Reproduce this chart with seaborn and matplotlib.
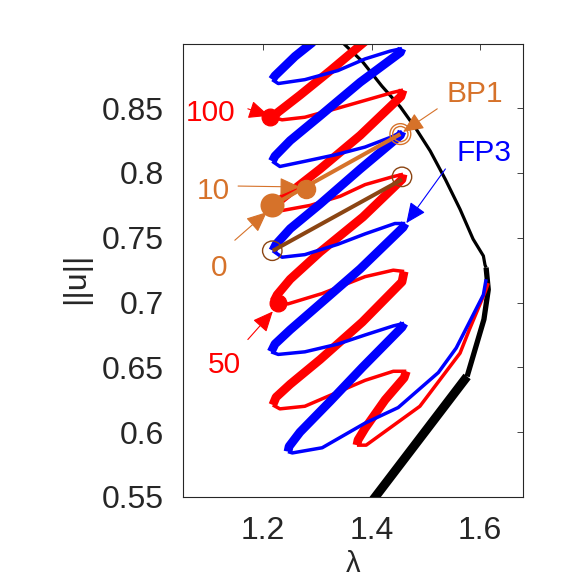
import matplotlib
matplotlib.use("Agg")
import matplotlib.pyplot as plt
import seaborn as sns

# ---- data: (lambda, ||u||) ----
# each branch is a list of pieces, alternating thick (stable) / thin (unstable), starting thick
red_lam = [
    [1.395, 1.324, 1.268, 1.228, 1.218],
    [1.218, 1.235, 1.277, 1.338, 1.388, 1.438, 1.458],
    [1.458, 1.454, 1.379, 1.305, 1.250, 1.226, 1.218],
    [1.218, 1.235, 1.287, 1.342, 1.388, 1.438, 1.458],
    [1.458, 1.456, 1.384, 1.305, 1.250, 1.226, 1.220],
    [1.220, 1.246, 1.309, 1.388, 1.440, 1.460],
    [1.460, 1.456, 1.383, 1.305, 1.250, 1.224, 1.218],
    [1.218, 1.231, 1.277, 1.338, 1.388, 1.440, 1.464],
    [1.464, 1.460, 1.425, 1.388, 1.375, 1.373],
    [1.373, 1.390, 1.489, 1.563, 1.580, 1.609, 1.615],
]
red_u = [
    [0.904, 0.879, 0.860, 0.847, 0.843],
    [0.843, 0.841, 0.843, 0.850, 0.856, 0.862, 0.864],
    [0.864, 0.859, 0.829, 0.803, 0.785, 0.777, 0.774],
    [0.774, 0.771, 0.775, 0.782, 0.791, 0.797, 0.799],
    [0.799, 0.795, 0.766, 0.739, 0.718, 0.706, 0.701],
    [0.701, 0.699, 0.707, 0.720, 0.725, 0.724],
    [0.724, 0.716, 0.685, 0.656, 0.637, 0.627, 0.621],
    [0.621, 0.618, 0.620, 0.631, 0.640, 0.647, 0.647],
    [0.647, 0.642, 0.625, 0.603, 0.594, 0.590],
    [0.590, 0.590, 0.620, 0.661, 0.679, 0.708, 0.715],
]

blue_lam = [
    [1.292, 1.259, 1.222, 1.217],
    [1.217, 1.228, 1.277, 1.338, 1.388, 1.434, 1.456],
    [1.456, 1.453, 1.379, 1.305, 1.250, 1.222, 1.217],
    [1.217, 1.231, 1.277, 1.333, 1.388, 1.438, 1.456],
    [1.456, 1.453, 1.379, 1.305, 1.250, 1.224, 1.218],
    [1.218, 1.235, 1.277, 1.338, 1.388, 1.443, 1.462],
    [1.462, 1.458, 1.379, 1.305, 1.250, 1.222, 1.215],
    [1.215, 1.228, 1.277, 1.338, 1.388, 1.440, 1.460],
    [1.460, 1.456, 1.383, 1.324, 1.268, 1.248, 1.246],
    [1.246, 1.254, 1.309, 1.388, 1.449, 1.523, 1.556, 1.606, 1.611],
]
blue_u = [
    [0.901, 0.890, 0.875, 0.872],
    [0.872, 0.869, 0.872, 0.879, 0.888, 0.894, 0.896],
    [0.896, 0.893, 0.870, 0.844, 0.825, 0.813, 0.809],
    [0.809, 0.805, 0.809, 0.814, 0.820, 0.828, 0.832],
    [0.832, 0.829, 0.803, 0.776, 0.757, 0.745, 0.740],
    [0.740, 0.735, 0.737, 0.745, 0.753, 0.761, 0.761],
    [0.761, 0.758, 0.726, 0.699, 0.679, 0.668, 0.662],
    [0.662, 0.660, 0.662, 0.668, 0.675, 0.682, 0.684],
    [0.684, 0.681, 0.650, 0.624, 0.600, 0.589, 0.585],
    [0.585, 0.584, 0.588, 0.607, 0.619, 0.646, 0.665, 0.706, 0.718],
]

# black primary branch: thin, medium, thick parts
black_lam = [
    [1.338, 1.383, 1.419, 1.453, 1.482, 1.508, 1.536, 1.563, 1.587, 1.606, 1.609, 1.611],
    [1.611, 1.615, 1.607, 1.576],
    [1.576, 1.403],
]
black_u = [
    [0.904, 0.886, 0.867, 0.851, 0.834, 0.817, 0.795, 0.772, 0.749, 0.736, 0.729, 0.727],
    [0.727, 0.710, 0.687, 0.643],
    [0.643, 0.548],
]

# connecting branches between bifurcation points
orange_lam = [1.217, 1.453]
orange_u = [0.775, 0.830]
brown_lam = [1.218, 1.456]
brown_u = [0.740, 0.795]

# labelled points
red_pt_lam = [1.213, 1.228]        # 100, 50
red_pt_u = [0.843, 0.700]
orange_pt_lam = [1.217, 1.279]     # 0, 10
orange_pt_u = [0.775, 0.788]
brown_circ_lam = [1.217, 1.456]
brown_circ_u = [0.740, 0.797]
bp1_lam = [1.453]
bp1_u = [0.830]

# annotations
ann_text = ["100", "10", "0", "50", "BP1", "FP3"]
ann_col = ["red", "orange", "orange", "red", "orange", "blue"]
ann_text_lam = [1.104, 1.108, 1.119, 1.128, 1.591, 1.607]
ann_text_u = [0.8403, 0.7799, 0.7203, 0.6460, 0.8550, 0.8093]
ann_tail_lam = [1.172, 1.154, 1.148, 1.172, 1.521, 1.536]
ann_tail_u = [0.8495, 0.7899, 0.7481, 0.6715, 0.8495, 0.8031]
ann_tip_lam = [1.211, 1.268, 1.207, 1.218, 1.458, 1.464]
ann_tip_u = [0.8441, 0.7892, 0.7698, 0.6932, 0.8317, 0.7613]

xticks = [1.2, 1.4, 1.6]
xtick_labels = ["1.2", "1.4", "1.6"]
yticks = [0.55, 0.6, 0.65, 0.7, 0.75, 0.8, 0.85]
ytick_labels = ["0.55", "0.6", "0.65", "0.7", "0.75", "0.8", "0.85"]

# ---- style ----
sns.set_theme(style="white")
plt.rcParams['font.family'] = ['Liberation Sans', 'DejaVu Sans']

colors = {"red": "#FF0000", "blue": "#0000FF", "orange": "#D6722A",
          "brown": "#8B4513", "black": "#000000"}
axis_col = "#262626"

fig = plt.figure(figsize=(5.8, 5.8), dpi=100)
ax = fig.add_axes([183 / 580, 83 / 580, 340 / 580, 453 / 580])


def draw(lam, u, color, lw):
    sns.lineplot(x=lam, y=u, sort=False, estimator=None, color=color,
                 linewidth=lw, ax=ax, solid_joinstyle="round",
                 solid_capstyle="butt")


# black branch
for lam, u, lw in zip(black_lam, black_u, [2.3, 3.8, 6.5]):
    draw(lam, u, colors["black"], lw)

# red then blue snaking branches
for lam_list, u_list, c in [(red_lam, red_u, "red"), (blue_lam, blue_u, "blue")]:
    for i, (lam, u) in enumerate(zip(lam_list, u_list)):
        draw(lam, u, colors[c], 6.3 if i % 2 == 0 else 2.5)

draw(brown_lam, brown_u, colors["brown"], 2.9)
draw(orange_lam, orange_u, colors["orange"], 2.9)

# markers
sns.scatterplot(x=brown_circ_lam, y=brown_circ_u, s=14 ** 2, marker="o",
                facecolor="none", edgecolor=colors["brown"], linewidth=1, ax=ax, zorder=5)
sns.scatterplot(x=bp1_lam, y=bp1_u, s=15 ** 2, marker="o",
                facecolor="none", edgecolor=colors["orange"], linewidth=1, ax=ax, zorder=5)
sns.scatterplot(x=bp1_lam, y=bp1_u, s=11 ** 2, marker="o",
                facecolor="none", edgecolor=colors["orange"], linewidth=1, ax=ax, zorder=5)
sns.scatterplot(x=red_pt_lam, y=red_pt_u, s=12 ** 2, marker="o",
                color=colors["red"], edgecolor=colors["red"], ax=ax, zorder=6)
sns.scatterplot(x=orange_pt_lam[:1], y=orange_pt_u[:1], s=16 ** 2, marker="o",
                color=colors["orange"], edgecolor=colors["orange"], ax=ax, zorder=6)
sns.scatterplot(x=orange_pt_lam[1:], y=orange_pt_u[1:], s=13 ** 2, marker="o",
                color=colors["orange"], edgecolor=colors["orange"], ax=ax, zorder=6)

# annotation arrows and labels
for t, c, tl, tu, al, au, hl, hu in zip(ann_text, ann_col, ann_text_lam, ann_text_u,
                                        ann_tail_lam, ann_tail_u, ann_tip_lam, ann_tip_u):
    ax.annotate("", xy=(hl, hu), xytext=(al, au), annotation_clip=False, zorder=7,
                arrowprops=dict(arrowstyle="-|>,head_length=0.9,head_width=0.4",
                                color=colors[c], lw=0.8, shrinkA=0, shrinkB=0,
                                mutation_scale=14))
    ax.text(tl, tu, t, color=colors[c], fontsize=21.5, ha="center", va="baseline",
            clip_on=False, zorder=7)

# axes
ax.set_xlim(1.0525, 1.679)
ax.set_ylim(0.55, 0.8995)
ax.set_xticks(xticks)
ax.set_xticklabels(xtick_labels)
ax.set_yticks(yticks)
ax.set_yticklabels(ytick_labels)
ax.tick_params(direction="in", top=True, right=True, length=4, width=0.6,
               colors=axis_col, labelsize=23, pad=14)
for sp in ax.spines.values():
    sp.set_visible(True)
    sp.set_color(axis_col)
    sp.set_linewidth(0.8)

ax.set_xlabel("λ", fontsize=21, color=axis_col, va="top")
ax.xaxis.set_label_coords(0.5, -0.117)
ax.set_ylabel("||u||", fontsize=23, color=axis_col)
ax.yaxis.set_label_coords(-0.27, 0.483)

fig.savefig("out.png", dpi=100)
